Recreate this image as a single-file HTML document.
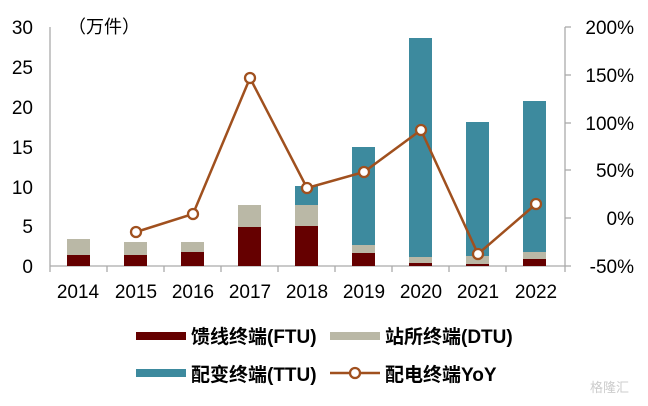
<!DOCTYPE html>
<html><head><meta charset="utf-8"><style>
body{margin:0;background:#fff;}
svg{display:block;font-family:"Liberation Sans","Noto Sans CJK SC",sans-serif;}
</style></head><body>
<svg width="648" height="406" viewBox="0 0 648 406">
<g fill="#000" font-size="19" text-anchor="end">
<text x="33" y="34">30</text><text x="33" y="74">25</text><text x="33" y="114">20</text><text x="33" y="154">15</text><text x="33" y="194">10</text><text x="33" y="233">5</text><text x="33" y="273">0</text>
</g>
<g fill="#000" font-size="19" text-anchor="end">
<text x="634" y="34">200%</text><text x="634" y="82">150%</text><text x="634" y="130">100%</text><text x="634" y="177">50%</text><text x="634" y="225">0%</text><text x="634" y="273">-50%</text>
</g>
<text x="68" y="33" font-size="18">（万件）</text>
<g stroke="#aaa" stroke-width="1.3" fill="none">
<line x1="50" y1="27" x2="50" y2="266"/>
<line x1="565" y1="27" x2="565" y2="272"/>
<line x1="50" y1="266" x2="565" y2="266"/>
<line x1="50" y1="266" x2="50" y2="272"/><line x1="107" y1="266" x2="107" y2="272"/><line x1="164" y1="266" x2="164" y2="272"/><line x1="221" y1="266" x2="221" y2="272"/><line x1="278" y1="266" x2="278" y2="272"/><line x1="335" y1="266" x2="335" y2="272"/><line x1="392" y1="266" x2="392" y2="272"/><line x1="449" y1="266" x2="449" y2="272"/><line x1="506" y1="266" x2="506" y2="272"/>
<line x1="565" y1="27" x2="571" y2="27"/><line x1="565" y1="75" x2="571" y2="75"/><line x1="565" y1="123" x2="571" y2="123"/><line x1="565" y1="170" x2="571" y2="170"/><line x1="565" y1="218" x2="571" y2="218"/><line x1="565" y1="266" x2="571" y2="266"/>
</g>
<g>
<rect x="67" y="255" width="23" height="11" fill="#650000"/><rect x="67" y="239" width="23" height="16" fill="#bab8a6"/>
<rect x="124" y="255" width="23" height="11" fill="#650000"/><rect x="124" y="242" width="23" height="13" fill="#bab8a6"/>
<rect x="181" y="252" width="23" height="14" fill="#650000"/><rect x="181" y="242" width="23" height="10" fill="#bab8a6"/>
<rect x="238" y="227" width="23" height="39" fill="#650000"/><rect x="238" y="205" width="23" height="22" fill="#bab8a6"/>
<rect x="295" y="226" width="23" height="40" fill="#650000"/><rect x="295" y="205" width="23" height="21" fill="#bab8a6"/><rect x="295" y="186" width="23" height="19" fill="#3d8a9e"/>
<rect x="352" y="253" width="23" height="13" fill="#650000"/><rect x="352" y="245" width="23" height="8" fill="#bab8a6"/><rect x="352" y="147" width="23" height="98" fill="#3d8a9e"/>
<rect x="409" y="263" width="23" height="3" fill="#650000"/><rect x="409" y="257" width="23" height="6" fill="#bab8a6"/><rect x="409" y="38" width="23" height="219" fill="#3d8a9e"/>
<rect x="466" y="264" width="23" height="2" fill="#650000"/><rect x="466" y="256" width="23" height="8" fill="#bab8a6"/><rect x="466" y="122" width="23" height="134" fill="#3d8a9e"/>
<rect x="523" y="259" width="23" height="7" fill="#650000"/><rect x="523" y="252" width="23" height="7" fill="#bab8a6"/><rect x="523" y="101" width="23" height="151" fill="#3d8a9e"/>
</g>
<polyline points="136,232 193,214 250,78 307,188 364,172 421,130 478,254 536,204" fill="none" stroke="#a0501e" stroke-width="2.5"/>
<g fill="#fff" stroke="#a0501e" stroke-width="2.3">
<circle cx="136" cy="232" r="5"/><circle cx="193" cy="214" r="5"/><circle cx="250" cy="78" r="5"/><circle cx="307" cy="188" r="5"/><circle cx="364" cy="172" r="5"/><circle cx="421" cy="130" r="5"/><circle cx="478" cy="254" r="5"/><circle cx="536" cy="204" r="5"/>
</g>
<g font-size="19" text-anchor="middle" fill="#000">
<text x="78" y="298">2014</text><text x="136" y="298">2015</text><text x="193" y="298">2016</text><text x="250" y="298">2017</text><text x="307" y="298">2018</text><text x="364" y="298">2019</text><text x="421" y="298">2020</text><text x="478" y="298">2021</text><text x="536" y="298">2022</text>
</g>
<g font-size="19" font-weight="bold">
<rect x="136" y="332" width="50" height="8" fill="#650000"/>
<text x="191" y="343">馈线终端(FTU)</text>
<rect x="330" y="332" width="50" height="8" fill="#bab8a6"/>
<text x="385" y="343">站所终端(DTU)</text>
<rect x="136" y="369" width="50" height="8" fill="#3d8a9e"/>
<text x="191" y="381">配变终端(TTU)</text>
<line x1="330" y1="373" x2="380" y2="373" stroke="#a0501e" stroke-width="2.5"/>
<circle cx="355" cy="373" r="5" fill="#fff" stroke="#a0501e" stroke-width="2.3"/>
<text x="385" y="381">配电终端YoY</text>
</g>
<text x="590" y="392" font-size="13" fill="#ccc">格隆汇</text>
</svg>
</body></html>
